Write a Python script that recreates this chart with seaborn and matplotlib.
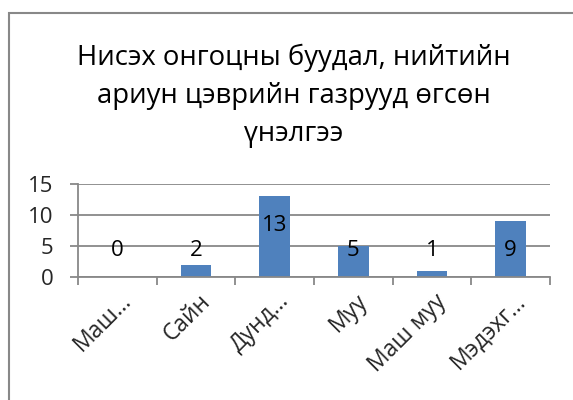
import matplotlib
matplotlib.use("Agg")
import matplotlib.pyplot as plt
import matplotlib.transforms as mtransforms
import seaborn as sns
import pandas as pd
from matplotlib.patches import Rectangle
from matplotlib.ticker import FixedLocator

categories = ["Маш…", "Сайн", "Дунд…", "Муу", "Маш муу", "Мэдэхг…"]
values = [0, 2, 13, 5, 1, 9]
yticks = [0, 5, 10, 15]
title_lines = ["Нисэх онгоцны буудал, нийтийн", "ариун цэврийн газрууд өгсөн", "үнэлгээ"]

sns.set_theme(style="white")
plt.rcParams['font.family'] = ['Open Sans', 'DejaVu Sans']

df = pd.DataFrame({"cat": categories, "val": values})

W, H = 573, 400
fig = plt.figure(figsize=(W / 100, H / 100), dpi=100)
ax = fig.add_axes([78 / W, 1 - 277 / H, (550 - 78) / W, (277 - 184) / H])

sns.barplot(data=df, x="cat", y="val", color="#4F81BD", width=0.39, ax=ax,
            saturation=1, edgecolor="none")

grey = "#888888"
ax.set_ylim(0, 15)
ax.set_xlim(-0.5, len(categories) - 0.5)
ax.set_yticks(yticks)
ax.yaxis.grid(True, color=grey, linewidth=1.3)
ax.set_axisbelow(True)
for s in ["right", "top"]:
    ax.spines[s].set_visible(False)
for s in ["left", "bottom"]:
    ax.spines[s].set_color(grey)
    ax.spines[s].set_linewidth(1.3)
ax.set_xlabel("")
ax.set_ylabel("")

ax.tick_params(axis="y", which="major", length=5.8, width=1.3, color=grey,
               direction="out", left=True, labelsize=16, pad=12)
ax.tick_params(axis="x", which="major", length=0, labelsize=16.5, pad=15)
ax.xaxis.set_minor_locator(FixedLocator([i - 0.5 for i in range(len(categories) + 1)]))
ax.tick_params(axis="x", which="minor", length=5.5, width=1.3, color=grey,
               direction="out", bottom=True)
offset = mtransforms.ScaledTranslation(11 / 100, 0, fig.dpi_scale_trans)
for lab in ax.get_xticklabels():
    lab.set_rotation(45)
    lab.set_ha("right")
    lab.set_va("center")
    lab.set_rotation_mode("anchor")
    lab.set_transform(lab.get_transform() + offset)

for i, v in enumerate(values):
    ax.text(i, max(v - 4.7, 4.3), str(v), ha="center", va="center", fontsize=16, color="black")

for k, line in enumerate(title_lines):
    fig.text(294 / W, 1 - (65 + 38 * k) / H, line, ha="center", va="baseline",
             fontsize=19.8, color="black")

fig.patches.append(Rectangle((9 / W, -0.1), 1.2, 1 - 13 / H + 0.1, transform=fig.transFigure,
                             fill=False, edgecolor=grey, linewidth=1.5))

fig.savefig("out.png", dpi=100)
